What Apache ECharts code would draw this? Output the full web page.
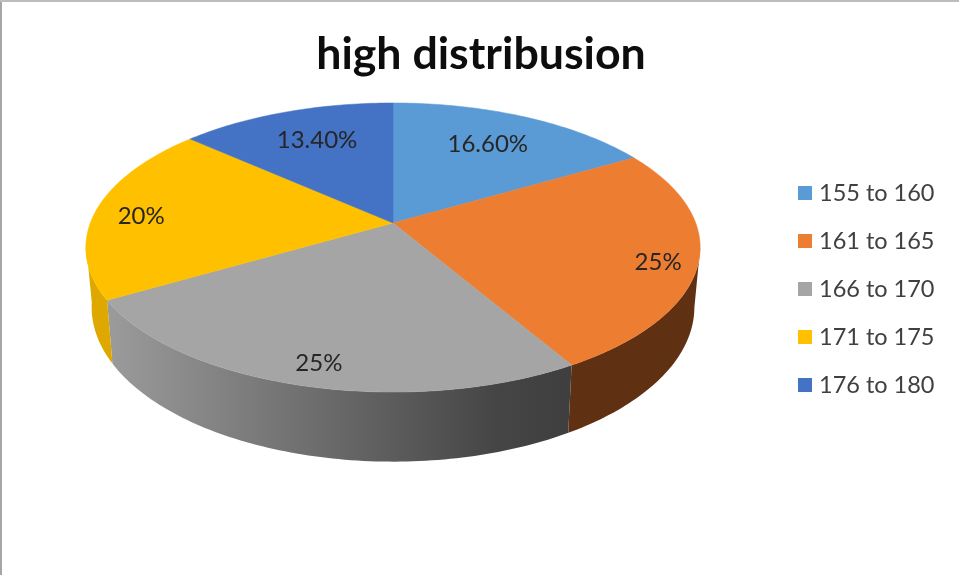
<!DOCTYPE html>
<html><head><meta charset="utf-8">
<style>html,body{margin:0;padding:0;background:#fff}#c{width:959px;height:575px}</style>
<script src="https://cdn.jsdelivr.net/npm/echarts@6/dist/echarts.min.js"></script>
</head><body><div id="c"></div>
<script>
const titleText = 'high distribusion';
const categories = ['155 to 160', '161 to 165', '166 to 170', '171 to 175', '176 to 180'];
const values = [16.6, 25, 25, 20, 13.4];
const valueLabels = ['16.60%', '25%', '25%', '20%', '13.40%'];

const topColors = ['#5b9bd5', '#ed7d31', '#a5a5a5', '#ffc000', '#4472c4'];
const sideColors = ['#3a6a96', '#5f3112', null, '#dfa800', '#2f5597'];
const labelReach = [0.71, 0.878, 0.88, 0.84, 0.71];
const labelTurn = [-0.7, 3, -1, -2.5, 1];

const font = 'Lato, Carlito, "Open Sans", sans-serif';
const geo = { cx: 393, cy: 223, rx: 302.7, ry: 140.4, tilt: 0.1696, cyLow: 281, ryLow: 150, rxLow: 297 };
const total = values.reduce((a, b) => a + b, 0);

function project(deg, r, low) {
  const t = deg * Math.PI / 180;
  const x = Math.sin(t) * r, y = -Math.cos(t) * r;
  const w = 1 - geo.tilt * y;
  return low
    ? [geo.cx + geo.rxLow * x / w, geo.cyLow + geo.ryLow * y / w]
    : [geo.cx + geo.rx * x / w, geo.cy + geo.ry * y / w];
}
function arc(a0, a1, low) {
  const pts = [], n = Math.max(2, Math.ceil(Math.abs(a1 - a0)));
  for (let i = 0; i <= n; i++) pts.push(project(a0 + (a1 - a0) * i / n, 1, low));
  return pts;
}
const grayShade = { type: 'linear', global: true, x: 112, y: 0, x2: 566, y2: 0,
  colorStops: [{ offset: 0, color: '#9a9a9a' }, { offset: 0.85, color: '#454545' }, { offset: 1, color: '#3f3f3f' }] };

function sliceRenderer(index) {
  const before = values.slice(0, index).reduce((a, b) => a + b, 0);
  return function (params, api) {
    const v = api.value(0);
    const a0 = before / total * 360, a1 = (before + v) / total * 360;
    const children = [];
    const s0 = Math.max(a0, 100), s1 = Math.min(a1, 262);
    if (s1 > s0) {
      children.push({
        type: 'polygon', z2: 0, silent: true,
        shape: { points: arc(s0, s1, false).concat(arc(s1, s0, true)) },
        style: { fill: sideColors[index] || grayShade, stroke: null }
      });
    }
    children.push({
      type: 'polygon', z2: 1, silent: true,
      shape: { points: [[geo.cx, geo.cy]].concat(arc(a0, a1, false)) },
      style: { fill: topColors[index], stroke: topColors[index], lineWidth: 0.5 }
    });
    const p = project((a0 + a1) / 2 + labelTurn[index], labelReach[index], false);
    children.push({
      type: 'text', z2: 2, silent: true,
      style: { x: p[0], y: p[1], text: valueLabels[index], fill: '#262626',
        font: '24px ' + font, textAlign: 'center', textVerticalAlign: 'middle' }
    });
    return { type: 'group', children };
  };
}

const chart = echarts.init(document.getElementById('c'), null, { renderer: 'canvas' });
chart.setOption({
  animation: false,
  backgroundColor: '#ffffff',
  title: { text: titleText, left: 476, top: 27, textAlign: 'center',
    textStyle: { fontFamily: font, fontSize: 44.7, fontWeight: 'bold', color: '#0d0d0d' } },
  legend: { orient: 'vertical', left: 793, top: 176, itemWidth: 14, itemHeight: 14, itemGap: 24, icon: 'rect',
    data: categories, selectedMode: false,
    textStyle: { fontFamily: font, fontSize: 23.5, color: '#404040', padding: [0, 0, 0, 2] } },
  graphic: [
    { type: 'rect', silent: true, shape: { x: 0, y: 0, width: 2, height: 575 }, style: { fill: '#a6a6a6' } },
    { type: 'rect', silent: true, shape: { x: 0, y: 0, width: 959, height: 2 }, style: { fill: '#bdbdbd' } }
  ],
  series: categories.map((name, i) => ({
    type: 'custom', name, coordinateSystem: 'none', silent: true,
    itemStyle: { color: topColors[i] },
    data: [[values[i]]],
    renderItem: sliceRenderer(i)
  }))
});
</script></body></html>
